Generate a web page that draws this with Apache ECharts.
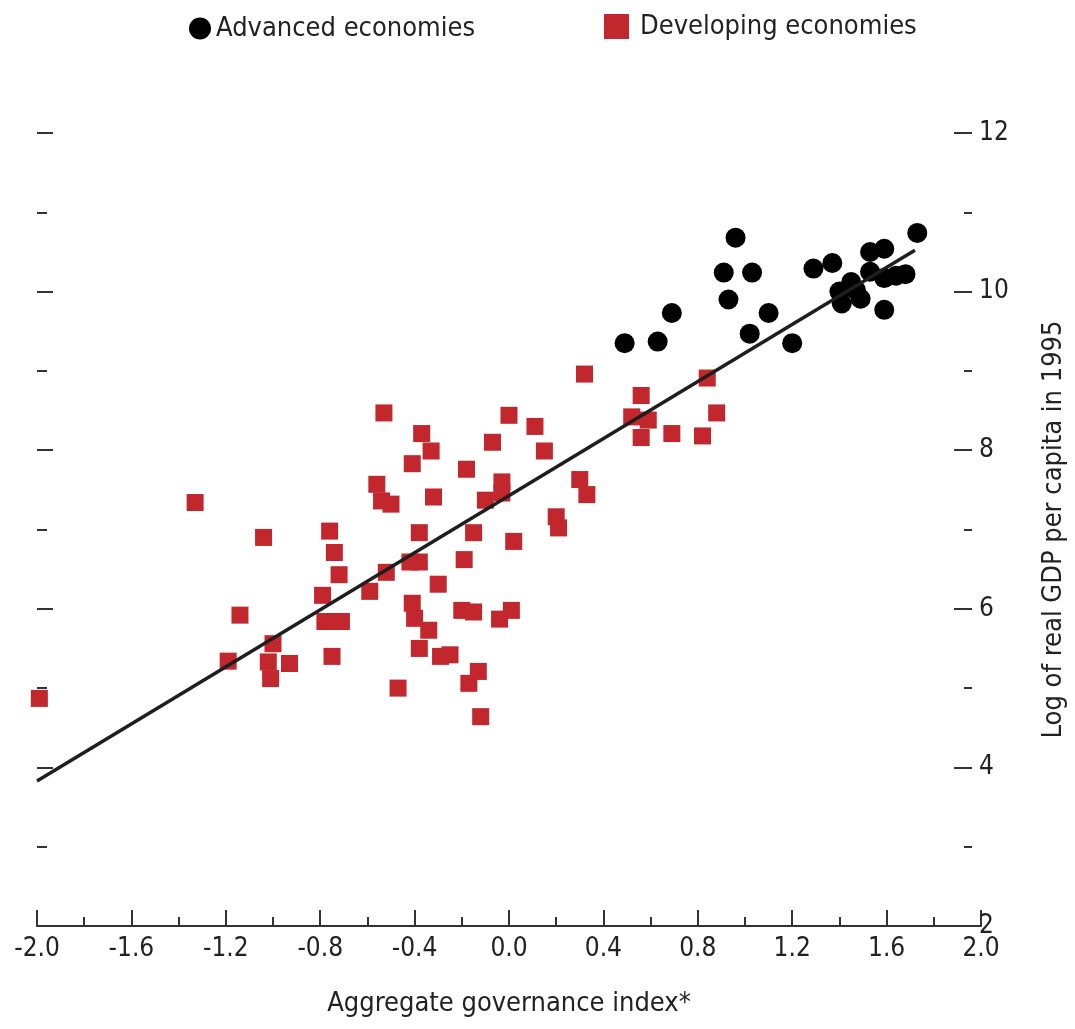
<!DOCTYPE html>
<html>
<head>
<meta charset="utf-8">
<title>Governance and income</title>
<script src="https://cdn.jsdelivr.net/npm/echarts@6/dist/echarts.min.js"></script>
<style>
  html, body { margin: 0; padding: 0; background: #ffffff; overflow: hidden; }
  #chart { width: 1075px; height: 1029px; }
</style>
</head>
<body>
<div id="chart"></div>
<script>
// Aggregate governance index (x) and log real GDP per capita in 1995 (y)
const advancedGov = [0.96, 0.91, 1.03, 0.93, 0.69, 1.10, 0.49, 0.63, 1.02, 1.20, 1.29, 1.37, 1.73,
  1.53, 1.59, 1.53, 1.59, 1.64, 1.68, 1.45, 1.40, 1.41, 1.49, 1.47, 1.59];
const advancedGdp = [10.68, 10.24, 10.24, 9.90, 9.73, 9.73, 9.35, 9.37, 9.47, 9.35, 10.29, 10.36, 10.74,
  10.50, 10.54, 10.25, 10.17, 10.20, 10.22, 10.12, 10.00, 9.85, 9.91, 10.02, 9.77];

const developingGov = [-1.99, -1.33, -1.04, -1.14, -1.19, -1.00, -1.02, -0.93, -1.01, -0.76, -0.74, -0.72,
  -0.79, -0.78, -0.71, -0.75, -0.59, -0.52, -0.56, -0.54, -0.50, -0.53, -0.37, -0.33, -0.41, -0.32, -0.38,
  -0.42, -0.38, -0.30, -0.41, -0.40, -0.34, -0.38, -0.29, -0.25, -0.47, -0.20, -0.15, -0.04, 0.01, -0.13,
  -0.17, -0.12, -0.18, -0.15, -0.19, -0.07, 0.00, 0.11, 0.15, -0.03, -0.03, -0.10, 0.02, 0.20, 0.21, 0.30,
  0.33, 0.32, 0.56, 0.52, 0.59, 0.56, 0.69, 0.82, 0.88, 0.84];
const developingGdp = [4.87, 7.34, 6.90, 5.92, 5.34, 5.56, 5.33, 5.31, 5.12, 6.98, 6.71, 6.43,
  6.17, 5.84, 5.84, 5.40, 6.22, 6.46, 7.57, 7.36, 7.32, 8.47, 8.21, 7.99, 7.83, 7.41, 6.96,
  6.59, 6.59, 6.31, 6.07, 5.88, 5.73, 5.50, 5.40, 5.42, 5.00, 5.98, 5.96, 5.87, 5.98, 5.21,
  5.06, 4.64, 7.76, 6.96, 6.62, 8.10, 8.44, 8.30, 7.99, 7.60, 7.46, 7.37, 6.85, 7.16, 7.02, 7.63,
  7.44, 8.96, 8.69, 8.42, 8.38, 8.16, 8.21, 8.18, 8.47, 8.91];

// Fitted regression line endpoints
const fitGov = [-2.0, 1.72];
const fitGdp = [3.83, 10.52];

const FONT = "'Liberation Sans Narrow', 'DejaVu Sans Condensed', sans-serif";
const INK = '#222222';
const LABEL_SIZE = 26;
const TEXT_SIZE = 27;

const zip = (xs, ys) => xs.map((x, i) => [x, ys[i]]);

const chart = echarts.init(document.getElementById('chart'), null, {
  renderer: 'canvas', width: 1075, height: 1029
});

const sharedY = {
  type: 'value', min: 2, max: 12, interval: 2,
  splitLine: { show: false },
  axisLine: { show: false, onZero: false }
};

chart.setOption({
  animation: false,
  backgroundColor: '#ffffff',
  textStyle: { fontFamily: FONT, color: INK },
  grid: { left: 37, right: 88, top: 133, bottom: 103, containLabel: false },
  legend: [
    {
      data: [{ name: 'Advanced economies', icon: 'circle' }],
      left: 184, top: 10, itemWidth: 22, itemHeight: 22,
      textStyle: { fontFamily: FONT, fontSize: TEXT_SIZE, color: INK }
    },
    {
      data: [{ name: 'Developing economies', icon: 'rect' }],
      left: 599, top: 8, itemWidth: 25, itemHeight: 25,
      textStyle: { fontFamily: FONT, fontSize: TEXT_SIZE, color: INK, padding: [0, 0, 0, 6] }
    }
  ],
  xAxis: {
    type: 'value', min: -2, max: 2, interval: 0.4,
    position: 'bottom',
    splitLine: { show: false },
    axisLine: { show: true, onZero: false, lineStyle: { color: '#333', width: 2 } },
    axisTick: { show: true, inside: true, length: 16, lineStyle: { color: '#333', width: 2 } },
    minorTick: { show: true, splitNumber: 2, length: 9, lineStyle: { color: '#333', width: 2 } },
    axisLabel: {
      margin: 10, fontSize: LABEL_SIZE, fontFamily: FONT, color: INK,
      formatter: v => (Math.abs(v) < 1e-9 ? 0 : v).toFixed(1)
    },
    name: 'Aggregate governance index*',
    nameLocation: 'middle', nameGap: 64,
    nameTextStyle: { fontSize: TEXT_SIZE, fontFamily: FONT, color: INK }
  },
  yAxis: [
    Object.assign({}, sharedY, {
      position: 'right', offset: -9,
      axisTick: { show: true, inside: true, length: 18, lineStyle: { color: '#333', width: 2 } },
      minorTick: { show: true, splitNumber: 2, length: 8, lineStyle: { color: '#333', width: 2 } },
      axisLabel: { margin: 7, fontSize: LABEL_SIZE, fontFamily: FONT, color: INK },
      name: 'Log of real GDP per capita in 1995',
      nameLocation: 'middle', nameRotate: 90, nameGap: 68,
      nameTextStyle: { fontSize: TEXT_SIZE, fontFamily: FONT, color: INK }
    }),
    Object.assign({}, sharedY, {
      position: 'left',
      axisTick: { show: true, inside: true, length: 16, lineStyle: { color: '#333', width: 2 } },
      minorTick: { show: true, splitNumber: 2, length: 10, lineStyle: { color: '#333', width: 2 } },
      axisLabel: { show: false }
    })
  ],
  series: [
    {
      name: 'Advanced economies', type: 'scatter', yAxisIndex: 0,
      symbol: 'circle', symbolSize: 20,
      itemStyle: { color: '#000000', opacity: 1 },
      data: zip(advancedGov, advancedGdp), z: 2
    },
    {
      name: 'Developing economies', type: 'scatter', yAxisIndex: 0,
      symbol: 'rect', symbolSize: 17,
      itemStyle: { color: '#c1272d', opacity: 1 },
      data: zip(developingGov, developingGdp), z: 2
    },
    {
      name: 'Fit', type: 'line', yAxisIndex: 0,
      symbol: 'none', silent: true,
      lineStyle: { color: '#1e1e1e', width: 3.5 },
      data: zip(fitGov, fitGdp), z: 3
    }
  ]
});
</script>
</body>
</html>
